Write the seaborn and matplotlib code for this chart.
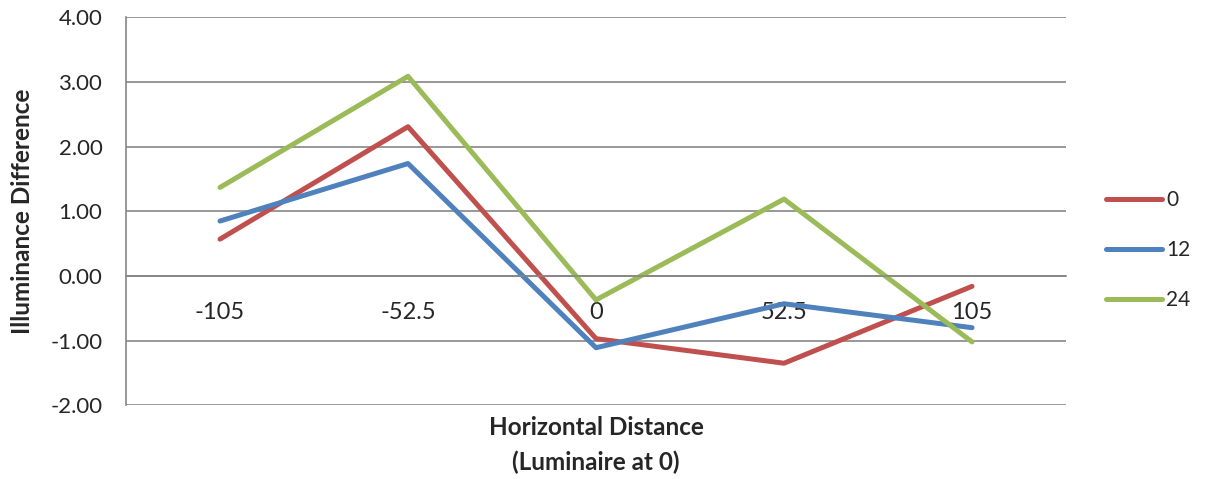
import pandas as pd
import matplotlib
matplotlib.use("Agg")
import matplotlib.pyplot as plt
import seaborn as sns

distances = ['-105', '-52.5', '0', '52.5', '105']
series_names = ['0', '12', '24']
vals_0 = [0.57, 2.31, -0.97, -1.35, -0.16]
vals_12 = [0.85, 1.74, -1.11, -0.43, -0.80]
vals_24 = [1.37, 3.09, -0.37, 1.19, -1.02]
colors = ['#C0504D', '#4F81BD', '#9BBB59']
y_ticks = [-2, -1, 0, 1, 2, 3, 4]

df = pd.DataFrame({
    'distance': distances * 3,
    'diff': vals_0 + vals_12 + vals_24,
    'series': [s for s in series_names for _ in distances],
})

sns.set_style('white')
plt.rcParams['font.family'] = ['Lato', 'DejaVu Sans']

fig = plt.figure(figsize=(12.08, 4.79), dpi=100)
ax = fig.add_axes([0.1043, 0.154, 0.7782, 0.8095])

sns.lineplot(data=df, x='distance', y='diff', hue='series', sort=False,
             palette=dict(zip(series_names, colors)), linewidth=3.6,
             solid_capstyle='round', ax=ax)

ax.set_xlim(-0.5, 4.5)
ax.set_ylim(-2, 4)
ax.set_yticks(y_ticks)
ax.set_yticklabels([f'{v:.2f}' for v in y_ticks], fontsize=16)
ax.yaxis.grid(True, color='#868686', linewidth=1.2)
ax.set_axisbelow(True)

for s in ['top', 'right']:
    ax.spines[s].set_visible(False)
ax.spines['left'].set_color('#868686')
ax.spines['left'].set_linewidth(1.2)
ax.spines['bottom'].set_position(('data', 0))
ax.spines['bottom'].set_color('#868686')
ax.spines['bottom'].set_linewidth(1.2)
ax.tick_params(axis='y', length=4, width=1.2, color='#868686', pad=13)
ax.tick_params(axis='x', length=0, pad=18.5, labelsize=17)

ax.set_xlabel('')
ax.set_ylabel('Illuminance Difference', fontsize=17.5, fontweight='bold', va='center')
ax.yaxis.set_label_coords(-0.1106, 0.5)
fig.text(0.4934, 0.071, 'Horizontal Distance\n(Luminaire at 0)', ha='center', va='center',
         fontsize=17.5, fontweight='bold', linespacing=1.6)

ax.legend(loc='center left', bbox_to_anchor=(0.9156, 0.478), bbox_transform=fig.transFigure,
          frameon=False, fontsize=15, handlelength=2.7, handletextpad=0.2,
          labelspacing=1.45, borderpad=0, borderaxespad=0, title=None)

fig.savefig('out.png', dpi=100)
